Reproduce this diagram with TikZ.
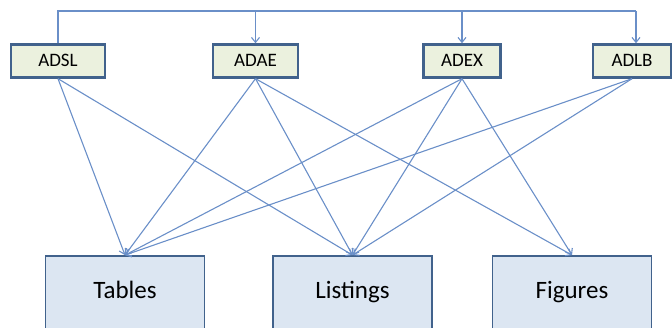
\documentclass[tikz,border=0pt]{standalone}
\usepackage{fontspec}
\setmainfont{Carlito}
\usetikzlibrary{arrows.meta}
\definecolor{edgeblue}{HTML}{6A8FC8}
\definecolor{boxline}{HTML}{41628C}
\definecolor{datafill}{HTML}{EBF1DE}
\definecolor{outfill}{HTML}{DCE6F2}
\tikzset{
	dataset/.style={draw=boxline,fill=datafill,line width=2.4pt,minimum height=33pt,inner sep=0pt,text height=12pt,text depth=0pt,font=\fontsize{19}{19}\selectfont},
	output/.style={draw=boxline,fill=outfill,line width=1.8pt,minimum width=159pt,minimum height=74pt,inner sep=0pt,text height=16pt,text depth=4pt,font=\fontsize{25}{25}\selectfont},
	flow/.style={edgeblue,line width=1.1pt,->}
}
\begin{document}
\begin{tikzpicture}[x=1pt,y=-1pt,>={Straight Barb[length=5pt,width=8pt]}]
	\useasboundingbox (0,0) rectangle (672,328);

	% analysis datasets
	\node[dataset,minimum width=94pt] (adsl) at (58,61) {ADSL};
	\node[dataset,minimum width=85pt] (adae) at (255.5,61) {ADAE};
	\node[dataset,minimum width=77pt] (adex) at (462,61) {ADEX};
	\node[dataset,minimum width=78pt] (adlb) at (632,61) {ADLB};

	% outputs
	\node[output] (tables) at (125,293) {Tables};
	\node[output] (listings) at (352.5,293) {Listings};
	\node[output] (figures) at (572,293) {Figures};

	% ADSL feeds the other datasets
	\coordinate (bus) at (0,11);
	\draw[edgeblue,line width=1.1pt] (adsl.north) -- (adsl.north |- bus) -- ([xshift=4pt]adlb.north |- bus);
	\draw[flow] (adae.north |- bus) -- (adae.north);
	\draw[flow] (adex.north |- bus) -- (adex.north);
	\draw[flow] ([xshift=4pt]adlb.north |- bus) -- ([xshift=4pt]adlb.north);

	% datasets to outputs
	\draw[flow] (adsl.south) -- (tables.north);
	\draw[flow] (adsl.south) -- (listings.north);
	\foreach \d in {adae,adex} {
		\draw[flow] (\d.south) -- (tables.north);
		\draw[flow] (\d.south) -- (listings.north);
		\draw[flow] (\d.south) -- (figures.north);
	}
	\draw[flow] (adlb.south) -- (tables.north);
	\draw[flow] (adlb.south) -- (listings.north);
\end{tikzpicture}
\end{document}
